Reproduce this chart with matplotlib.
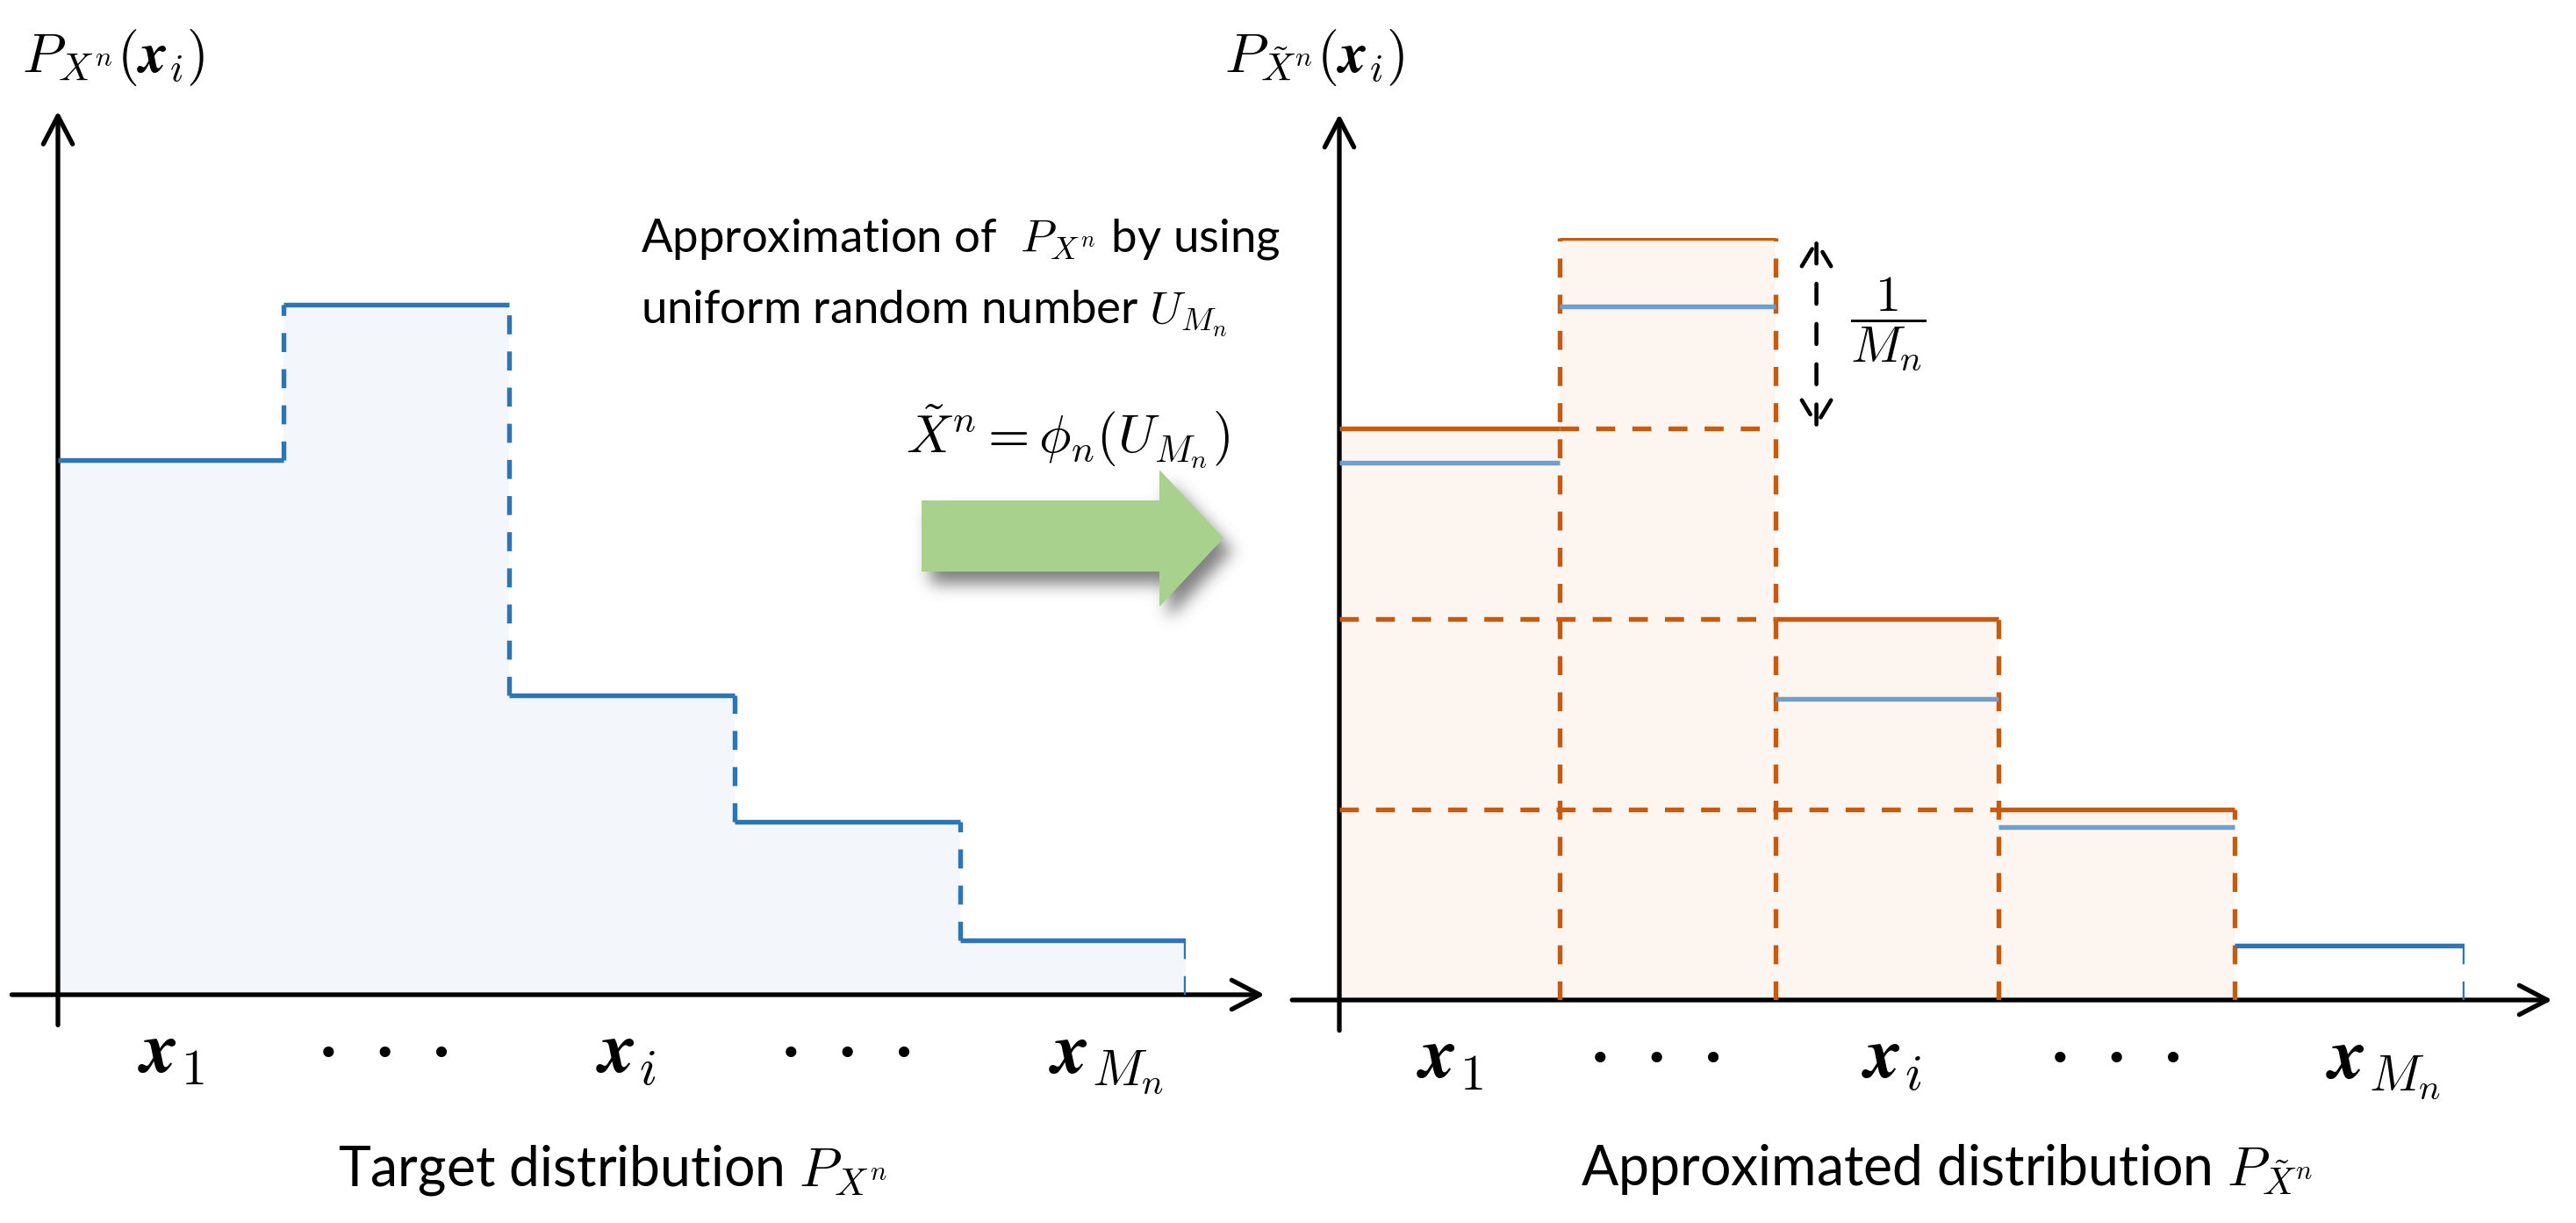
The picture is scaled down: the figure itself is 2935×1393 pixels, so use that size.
import matplotlib
matplotlib.use("Agg")
import matplotlib.pyplot as plt
import numpy as np
from matplotlib.patches import Polygon
from matplotlib.path import Path

plt.rcParams["mathtext.fontset"] = "cm"
plt.rcParams["font.family"] = ["Lato", "DejaVu Sans"]

# data: heights in units of 1/M_n
target = [2.82, 3.64, 1.58, 0.91, 0.285]      # P_{X^n}
approx = [3, 4, 2, 1, 0]                       # P_{X~^n}, multiples of 1/M_n
left_edges = [0, 1, 2, 3, 4, 5]
right_edges = [0, 0.98, 1.94, 2.93, 3.98, 5.0]
tick_labels = [r"$\boldsymbol{x}_1$", "•   •   •", r"$\boldsymbol{x}_i$",
               "•   •   •", r"$\boldsymbol{x}_{M_n}$"]

W, H = 2935, 1393
BLUE = "#2E75B6"
BLUE_LIGHT = "#6F9FCD"
ORANGE = "#C55A11"
BLUE_FILL = "#F3F6FB"
ORANGE_FILL = "#FDF5F0"
LW = 3.9
AX_LW = 3.8
DASH = (4.0, 3.6)

fig = plt.figure(figsize=(W / 100, H / 100), dpi=100)


def panel(x0, x5, base, unit):
    ax = fig.add_axes([x0 / W, (H - base) / H, (x5 - x0) / W, 4 * unit / H])
    ax.set_xlim(0, 5)
    ax.set_ylim(0, 4)
    ax.axis("off")
    ax.patch.set_visible(False)
    return ax


def axes_arrows(ax, xmin, xmax, ymin, ymax):
    props = dict(arrowstyle="->,head_length=1.15,head_width=0.6", lw=AX_LW,
                 color="black", mutation_scale=20, shrinkA=0, shrinkB=0)
    ax.annotate("", xy=(0, ymax), xytext=(0, ymin), arrowprops=props,
                annotation_clip=False, zorder=3)
    ax.annotate("", xy=(xmax, 0), xytext=(xmin, 0), arrowprops=props,
                annotation_clip=False, zorder=3)


def step_xy(edges, h):
    e = np.asarray(edges, float)
    return np.repeat(e, 2)[1:-1], np.repeat(np.asarray(h, float), 2)


def tick_text(ax, edges):
    c = (np.asarray(edges[:-1]) + np.asarray(edges[1:])) / 2
    shift = [0, -0.05, 0.02, 0, 0.15]
    for xc, s, lab in zip(c, shift, tick_labels):
        if lab.startswith("$"):
            ax.text(xc + s, -0.41, lab, fontsize=60, ha="center", va="baseline",
                    clip_on=False)
        else:
            ax.text(xc + s, -0.375, lab, fontsize=30, ha="center", va="baseline",
                    family="DejaVu Sans", clip_on=False)


# ---- left panel: target distribution
axl = panel(66, 1351, 1133, 216)
xs, ys = step_xy(left_edges, target)
axl.fill_between(xs, ys, color=BLUE_FILL, lw=0, zorder=1)
axes_arrows(axl, -0.205, 5.35, -0.16, 4.66)
axl.hlines(target, left_edges[:-1], left_edges[1:], color=BLUE, lw=LW, zorder=4)
for k in range(1, 5):
    lo, hi = sorted((target[k - 1], target[k]))
    axl.vlines(left_edges[k], lo, hi, color=BLUE, lw=LW, linestyles=(0, DASH), zorder=4)
axl.vlines(left_edges[5], 0, target[4], color=BLUE, lw=LW, linestyles=(0, DASH), zorder=4)
tick_text(axl, left_edges)

# ---- right panel: approximated distribution
axr = panel(1526, 2808, 1139, 217)
xs, ys = step_xy(right_edges, approx)
axr.fill_between(xs, ys, color=ORANGE_FILL, lw=0, zorder=1)
axes_arrows(axr, -0.21, 5.39, -0.16, 4.65)
# dashed grid of 1/M_n cells inside each bar
for lev in range(1, max(approx)):
    inside = [a > lev for a in approx]
    i = 0
    while i < len(approx):
        if inside[i]:
            j = i
            while j + 1 < len(approx) and inside[j + 1]:
                j += 1
            axr.hlines(lev, right_edges[i], right_edges[j + 1], color=ORANGE, lw=LW,
                       linestyles=(0, DASH), zorder=3)
            i = j + 1
        else:
            i += 1
for k in range(1, 5):
    top = max(approx[k - 1], approx[k])
    if top > 0:
        axr.vlines(right_edges[k], 0, top, color=ORANGE, lw=LW, linestyles=(0, DASH), zorder=3)
for i, a in enumerate(approx):
    if a > 0:
        axr.hlines(a, right_edges[i], right_edges[i + 1], color=ORANGE, lw=LW, zorder=4)
        axr.hlines(target[i], right_edges[i], right_edges[i + 1], color=BLUE_LIGHT,
                   lw=LW, zorder=4)
    else:
        axr.hlines(target[i], right_edges[i], right_edges[i + 1], color=BLUE, lw=LW, zorder=4)
        axr.vlines(right_edges[i + 1], 0, target[i], color=BLUE, lw=LW,
                   linestyles=(0, DASH), zorder=4)
tick_text(axr, right_edges)

# 1/M_n step marker
axr.annotate("", xy=(2.12, 4), xytext=(2.12, 3), annotation_clip=False,
             arrowprops=dict(arrowstyle="<->,head_length=1.0,head_width=0.6", lw=3.3,
                             ls=(0, (5, 5)), color="black", mutation_scale=20,
                             shrinkA=0, shrinkB=0))
axr.text(2.44, 3.55, r"$\dfrac{1}{M_n}$", fontsize=42, ha="center", va="center")

# ---- overlay: labels, captions and the green arrow
ov = fig.add_axes([0, 0, 1, 1], zorder=-1)
ov.axis("off")

ov.text(25, 82, r"$P_{X^n}(\boldsymbol{x}_i)$", fontsize=46, va="baseline")
ov.text(1395, 82, r"$P_{\tilde{X}^n}(\boldsymbol{x}_i)$", fontsize=46, va="baseline")
ov.text(730, 287, r"Approximation of  $P_{X^n}$ by using", fontsize=38, va="baseline")
ov.text(730, 368, r"uniform random number $U_{M_n}$", fontsize=38, va="baseline")
ov.text(1032, 515, r"$\tilde{X}^n = \phi_n(U_{M_n})$", fontsize=44, va="baseline")
ov.text(698, 1350, r"Target distribution $P_{X^n}$", fontsize=45, ha="center", va="baseline")
ov.text(2218, 1350, r"Approximated distribution $P_{\tilde{X}^n}$", fontsize=45,
        ha="center", va="baseline")

arrow = np.array([[1050, 570], [1321, 570], [1321, 535], [1394, 613],
                  [1321, 691], [1321, 651], [1050, 651]], float)

# soft drop shadow: rasterised arrow mask, gaussian blurred
sx0, sx1, sy0, sy1 = 1000, 1480, 490, 760
gx, gy = np.meshgrid(np.arange(sx0, sx1) + 0.5, np.arange(sy0, sy1) + 0.5)
mask = Path(arrow + [10, 14]).contains_points(
    np.column_stack([gx.ravel(), gy.ravel()])).reshape(gx.shape).astype(float)
sig = 9.0
k = np.exp(-0.5 * (np.arange(-30, 31) / sig) ** 2)
k /= k.sum()
blur = np.apply_along_axis(lambda r: np.convolve(r, k, mode="same"), 1, mask)
blur = np.apply_along_axis(lambda c: np.convolve(c, k, mode="same"), 0, blur)
shadow = np.zeros(mask.shape + (4,))
shadow[..., :3] = 0.33
shadow[..., 3] = 0.75 * blur
ov.imshow(shadow, extent=(sx0, sx1, sy1, sy0), origin="upper", aspect="auto",
          interpolation="bilinear", zorder=1)
ov.add_patch(Polygon(arrow, closed=True, facecolor="#A9D18E", edgecolor="none", zorder=2))

ov.set_xlim(0, W)
ov.set_ylim(H, 0)

fig.savefig("out.png", dpi=100)
